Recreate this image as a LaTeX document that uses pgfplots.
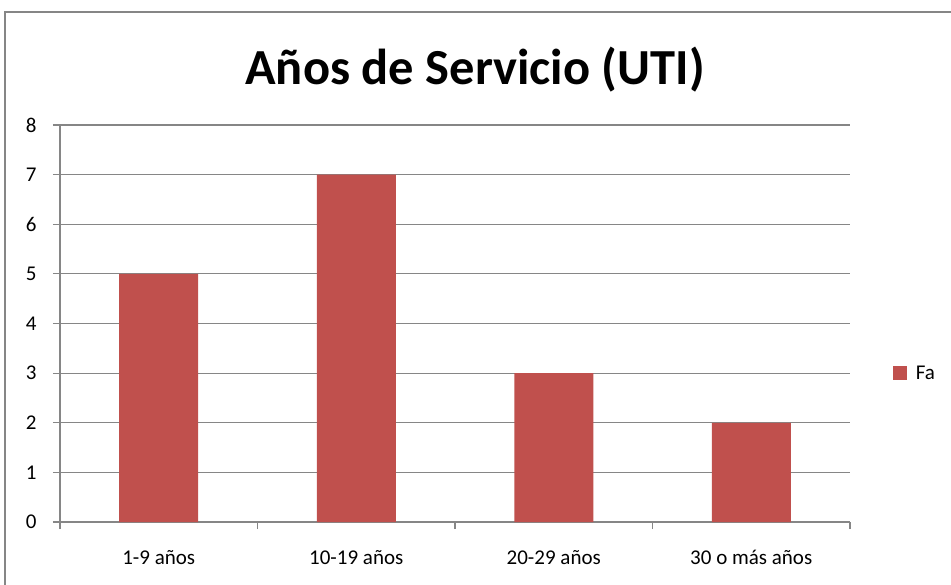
\documentclass[border=0pt]{standalone}
\usepackage{pgfplots}
\pgfplotsset{compat=1.18}
\usepackage{fontspec}
\setmainfont{Carlito}
\definecolor{barred}{HTML}{C0504D}
\definecolor{axgray}{HTML}{868686}
\begin{document}
\begin{tikzpicture}
\begin{axis}[
  at={(0pt,0pt)}, anchor=south west,
  scale only axis,
  width=790pt, height=397pt,
  xmin=-0.5, xmax=3.5, ymin=0, ymax=8,
  xtick={0,1,2,3},
  xticklabels={1-9 años,10-19 años,20-29 años,30 o más años},
  minor xtick={-0.5,0.5,1.5,2.5,3.5},
  ytick={0,1,...,8},
  /pgf/number format/assume math mode=true,
  axis x line*=bottom, axis y line*=left,
  axis line style={draw=axgray, line width=1.2pt, -},
  ymajorgrids,
  grid style={draw=axgray, line width=1.2pt},
  tick align=outside,
  major tick length=7pt, minor tick length=7pt,
  xtick style={draw=none},
  minor x tick style={draw=axgray, line width=1.2pt},
  ytick style={draw=axgray, line width=1.2pt},
  tick label style={font=\fontsize{21}{24}\selectfont, text=black},
  yticklabel style={xshift=-13pt},
  xticklabel style={yshift=-18pt},
  ybar, bar width=79pt,
  legend style={at={(1.054,0.375)}, anchor=west, draw=none, fill=none,
    font=\fontsize{21}{24}\selectfont, inner sep=0pt},
  legend image code/.code={\fill[barred] (0pt,-7pt) rectangle (14pt,7pt);},
]
\addplot[fill=barred, draw=none] coordinates {(0,5) (1,7) (2,3) (3,2)};
\addlegendentry{\hspace{7pt}Fa}
\end{axis}
\node[font=\fontsize{50.5}{56}\selectfont\bfseries] at (415pt,452pt) {Años de Servicio (UTI)};
\draw[axgray, line width=2pt] (-54.5pt,-120pt) -- (-54.5pt,509.5pt) -- (950pt,509.5pt);
\pgfresetboundingbox
\useasboundingbox (-60pt,-62pt) rectangle (891pt,522pt);
\end{tikzpicture}
\end{document}
